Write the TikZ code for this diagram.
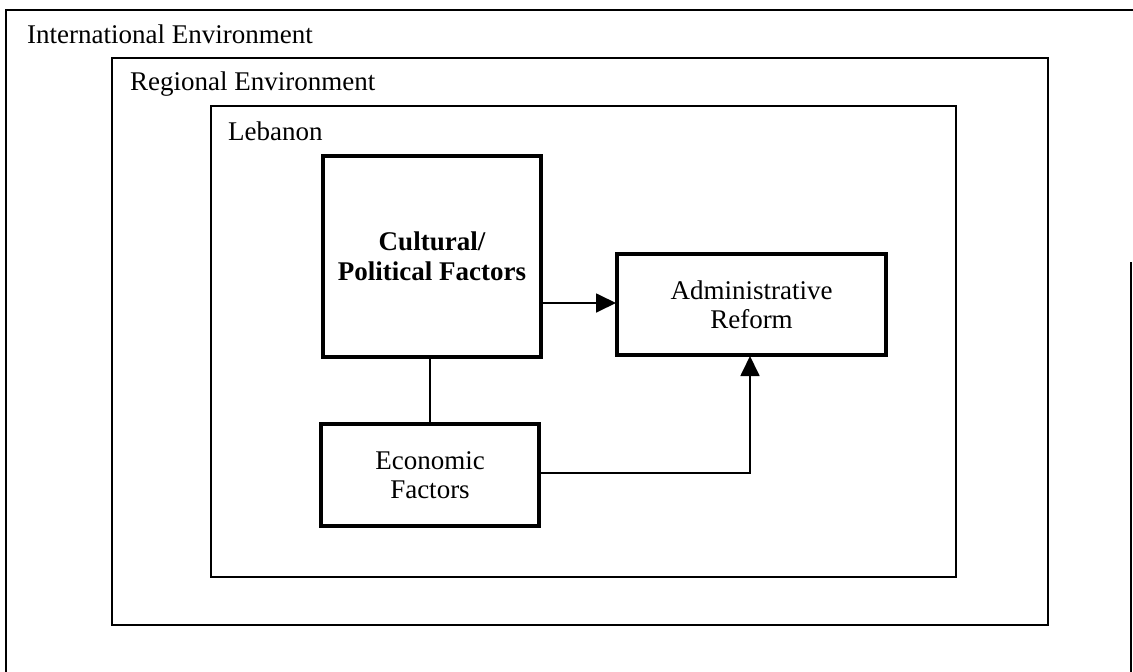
\documentclass[tikz,border=0pt]{standalone}
\usepackage{fontspec}
\setmainfont{Liberation Serif}
\usetikzlibrary{arrows.meta}

\tikzset{
  frame/.style={draw=black, line width=2.2pt},
  framelabel/.style={anchor=base west, inner sep=0pt, font=\fontsize{27}{29}\selectfont},
  factor/.style={draw=black, line width=4pt, rectangle, inner sep=0pt, align=center,
                 font=\fontsize{27}{29}\selectfont},
  link/.style={draw=black, line width=1.8pt},
  arrowlink/.style={link, -{Triangle[length=20pt,width=19pt]}, shorten >=-1pt}
}

\begin{document}
\begin{tikzpicture}[x=1pt,y=-1pt]
  \useasboundingbox (0,0) rectangle (1133,672);

  % Nested environments
  \draw[frame] (1133,10) -- (6,10) -- (6,672);
  \draw[frame] (1131,262) -- (1131,672);
  \node[framelabel] (intl) at (27,43) {International Environment};

  \draw[frame] (112,58) rectangle (1048,625);
  \node[framelabel] (regional) at (130,90) {Regional Environment};

  \draw[frame] (211,106) rectangle (956,577);
  \node[framelabel] (lebanon) at (228,140) {Lebanon};

  % Factors and outcome
  \node[factor, minimum width=218pt, minimum height=201pt, font=\fontsize{27}{30}\selectfont\bfseries]
    (cult) at (432,256.5) {Cultural/\\Political Factors};
  \node[factor, minimum width=269pt, minimum height=101pt]
    (admin) at (751.5,304.5) {Administrative\\Reform};
  \node[factor, minimum width=218pt, minimum height=102pt]
    (econ) at (430,475) {Economic\\Factors};

  % Connectors
  \draw[arrowlink] (cult.east |- 0,303) -- (admin.west |- 0,303);
  \draw[link] (cult.south -| econ.north) -- (econ.north);
  \draw[arrowlink] (econ.east |- 0,473) -| (admin.south -| 750,0);
\end{tikzpicture}
\end{document}
